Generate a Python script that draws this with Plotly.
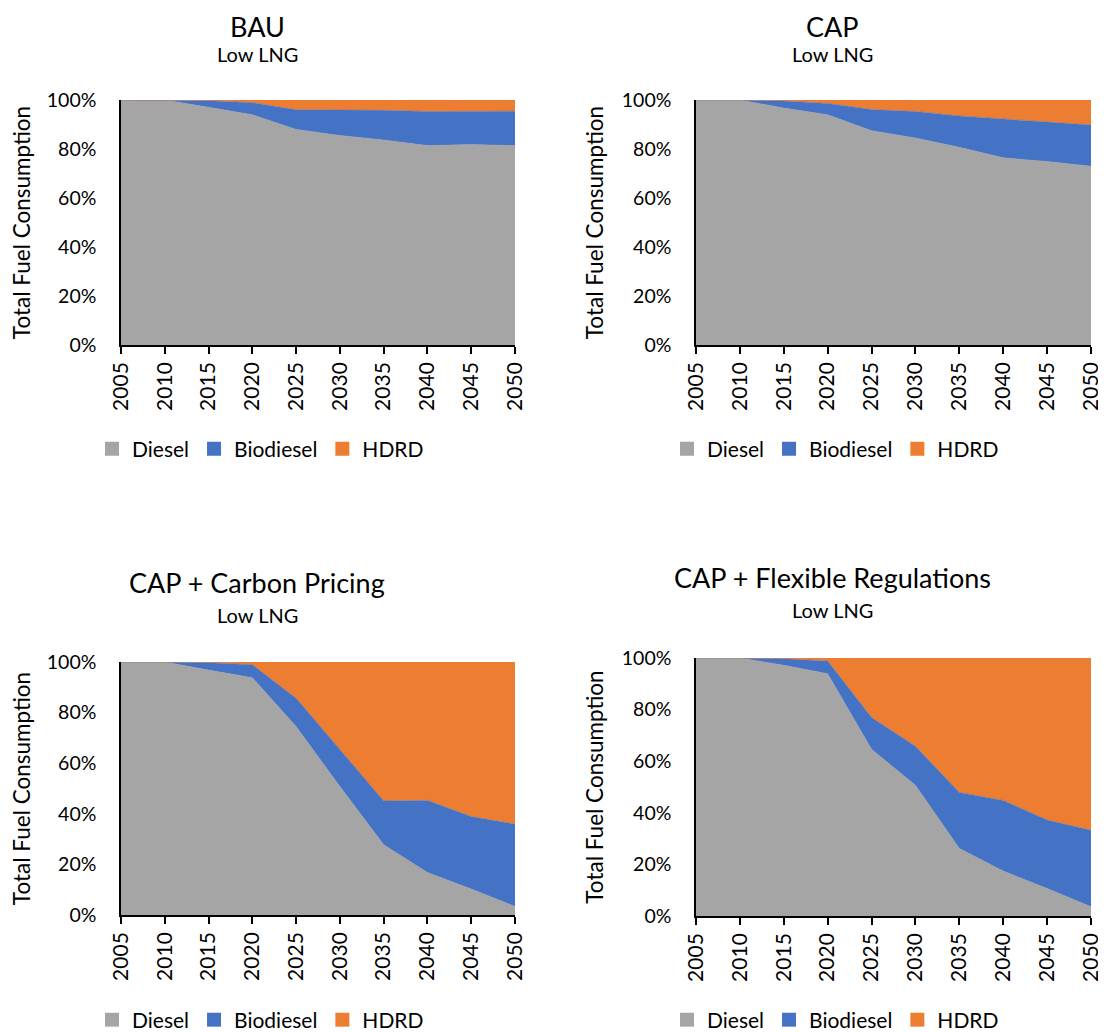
import plotly.graph_objects as go

years = [2005, 2010, 2015, 2020, 2025, 2030, 2035, 2040, 2045, 2050]
fuels = ["Diesel", "Biodiesel", "HDRD"]
colors = {"Diesel": "#A5A5A5", "Biodiesel": "#4472C4", "HDRD": "#ED7D31"}

# Shares (%) of total fuel consumption
bau_diesel = [100, 100, 97.0, 94.0, 88.0, 85.5, 83.7, 81.4, 81.8, 81.4]
bau_bio = [0, 0, 2.7, 4.9, 8.0, 10.4, 12.1, 13.9, 13.6, 14.0]
bau_hdrd = [0, 0, 0.3, 1.1, 4.0, 4.1, 4.2, 4.7, 4.6, 4.6]

cap_diesel = [100, 100, 96.7, 94.0, 87.5, 84.5, 80.7, 76.4, 74.9, 73.0]
cap_bio = [0, 0, 2.9, 4.6, 8.6, 10.8, 12.8, 15.7, 16.1, 16.8]
cap_hdrd = [0, 0, 0.4, 1.4, 3.9, 4.7, 6.5, 7.9, 9.0, 10.2]

cp_diesel = [100, 100, 96.8, 93.8, 74.5, 50.8, 27.8, 16.8, 10.3, 3.4]
cp_bio = [0, 0, 2.9, 5.1, 11.2, 14.5, 17.3, 28.5, 28.6, 32.5]
cp_hdrd = [0, 0, 0.3, 1.1, 14.3, 34.7, 54.9, 54.7, 61.1, 64.1]

fr_diesel = [100, 100, 97.2, 93.9, 64.6, 50.7, 26.2, 17.4, 10.7, 3.6]
fr_bio = [0, 0, 2.5, 4.9, 12.3, 15.1, 21.7, 27.4, 26.5, 29.6]
fr_hdrd = [0, 0, 0.3, 1.2, 23.1, 34.2, 52.1, 55.2, 62.8, 66.8]

titles = ["BAU", "CAP", "CAP + Carbon Pricing", "CAP + Flexible Regulations"]
subtitle = "Low LNG"
y_ticks = [0, 20, 40, 60, 80, 100]
y_ticktext = ["0%", "20%", "40%", "60%", "80%", "100%"]

panels = [
    {"Diesel": bau_diesel, "Biodiesel": bau_bio, "HDRD": bau_hdrd},
    {"Diesel": cap_diesel, "Biodiesel": cap_bio, "HDRD": cap_hdrd},
    {"Diesel": cp_diesel, "Biodiesel": cp_bio, "HDRD": cp_hdrd},
    {"Diesel": fr_diesel, "Biodiesel": fr_bio, "HDRD": fr_hdrd},
]

# The page's default body margin offsets the figure by 8 px.
OFF = 8
W, H = 1106 - OFF, 1032 - OFF
FONT = "Lato, 'Open Sans', sans-serif"


def px_x(v):
    return (v - OFF) / W


def px_y(v):
    return 1 - (v - OFF) / H


# layout geometry (window pixels)
xdom_px = [(121, 515), (696, 1091), (121, 515), (696, 1091)]
ydom_px = [(100, 345), (100, 345), (662, 915), (658, 916)]
title_px = [(257, 26, 54), (833, 26, 54), (257, 582, 615), (833, 577, 610)]
legend_px = [(92, 449), (667, 449), (92, 1020), (667, 1020)]

fig = go.Figure()
layout = dict(
    width=W, height=H,
    margin=dict(l=0, r=0, t=0, b=0, autoexpand=False),
    paper_bgcolor="white", plot_bgcolor="white",
    font=dict(family=FONT, size=21, color="#000000"),
    annotations=[],
)

for i, data in enumerate(panels):
    n = "" if i == 0 else str(i + 1)
    xa, ya = "x" + n, "y" + n
    leg = "legend" + n
    for f in fuels:
        fig.add_trace(go.Scatter(
            x=years, y=data[f], name=f, mode="lines",
            stackgroup="s" + str(i),
            line=dict(width=0.5, color=colors[f]),
            fillcolor=colors[f],
            xaxis=xa, yaxis=ya, showlegend=False, hoverinfo="x+y+name",
        ))
    for f in fuels:
        fig.add_trace(go.Scatter(
            x=[None], y=[None], name=f, mode="markers",
            marker=dict(symbol="square", size=14, color=colors[f]),
            xaxis=xa, yaxis=ya, legend=leg, showlegend=True,
        ))
    x0, x1 = xdom_px[i]
    y0, y1 = ydom_px[i]
    layout["xaxis" + n] = dict(
        domain=[px_x(x0), px_x(x1)], anchor=ya,
        range=[2005, 2050], tickmode="array", tickvals=years,
        ticktext=[str(y) for y in years], tickangle=-90,
        showline=True, linecolor="black", linewidth=1.5,
        ticks="outside", ticklen=7, tickwidth=1.5, tickcolor="black",
        showgrid=False, zeroline=False, tickfont=dict(size=21),
        automargin=False,
    )
    layout["yaxis" + n] = dict(
        domain=[px_y(y1), px_y(y0)], anchor=xa,
        range=[0, 100], tickmode="array", tickvals=y_ticks, ticktext=y_ticktext,
        showline=True, linecolor="black", linewidth=1.5,
        ticks="", showgrid=False, zeroline=False, tickfont=dict(size=19.5),
        ticklabelstandoff=19, automargin=False,
        title=dict(text="Total Fuel Consumption", font=dict(size=22.5), standoff=12),
    )
    lx, ly = legend_px[i]
    layout[leg] = dict(
        orientation="h", x=px_x(lx), y=px_y(ly), xanchor="left", yanchor="middle",
        font=dict(size=21), bgcolor="rgba(0,0,0,0)", itemwidth=30,
        traceorder="normal",
    )
    tx, ty1, ty2 = title_px[i]
    layout["annotations"].append(dict(
        text=titles[i], x=px_x(tx), y=px_y(ty1), xref="paper", yref="paper",
        xanchor="center", yanchor="middle", showarrow=False, font=dict(size=27),
    ))
    layout["annotations"].append(dict(
        text=subtitle, x=px_x(tx), y=px_y(ty2), xref="paper", yref="paper",
        xanchor="center", yanchor="middle", showarrow=False, font=dict(size=20),
    ))

fig.update_layout(**layout)
fig.write_html("out.html")
